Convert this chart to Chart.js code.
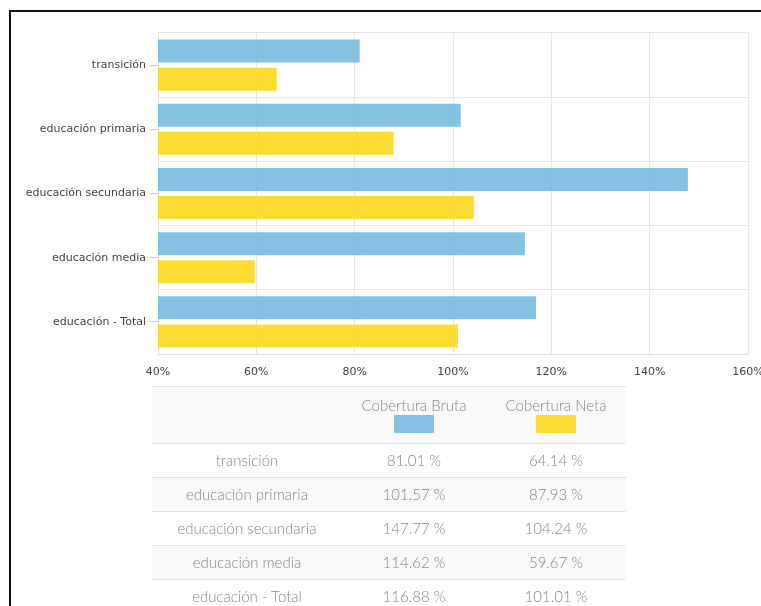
<!DOCTYPE html>
<html>
<head>
<meta charset="utf-8">
<script src="https://cdn.jsdelivr.net/npm/chart.js@4.4.0/dist/chart.umd.min.js"></script>
<style>
html, body { margin: 0; padding: 0; width: 761px; height: 606px; overflow: hidden; background: #fff; }
#frame { position: absolute; left: 9px; top: 10px; width: 800px; height: 700px; border-left: 2px solid #111; border-top: 2px solid #111; }
#wrap { position: absolute; left: 0; top: 0; width: 780px; height: 390px; }
table { position: absolute; left: 152px; top: 386px; width: 474px; border-collapse: collapse; table-layout: fixed;
        font-family: Lato, "Open Sans", sans-serif; font-weight: 300; font-size: 15px; color: #888; }
td, th { text-align: center; font-weight: 300; border-top: 1px solid #e2e2e2; padding: 0; }
th { height: 56px; vertical-align: top; background: #f9f9f9; }
th .lbl { display: block; margin-top: 9px; line-height: 18px; }
th .sw { display: inline-block; width: 40px; height: 18px; margin-top: 1px; }
td { height: 33px; line-height: 33px; }
tr.alt td { background: #f9f9f9; }
</style>
</head>
<body>
<div id="frame"></div>
<div id="wrap"><canvas id="chart" width="780" height="390"></canvas></div>
<table id="table">
  <colgroup><col style="width:190px"><col style="width:144px"><col style="width:140px"></colgroup>
  <thead><tr id="head"><th></th></tr></thead>
  <tbody id="body"></tbody>
</table>
<script>
const categories = ["transición", "educación primaria", "educación secundaria", "educación media", "educación - Total"];
const seriesNames = ["Cobertura Bruta", "Cobertura Neta"];
const cobBruta = [81.01, 101.57, 147.77, 114.62, 116.88];
const cobNeta = [64.14, 87.93, 104.24, 59.67, 101.01];
const xTicks = [40, 60, 80, 100, 120, 140, 160];

const blue = "rgba(119, 186, 224, 0.9)";
const yellow = "rgba(253, 216, 28, 0.9)";
const gridColor = "#e6e6e6";
const labelFont = { family: "DejaVu Sans", size: 11 };

const ctx = document.getElementById("chart");
const chart = new Chart(ctx, {
    type: "bar",
    data: {
        labels: categories,
        datasets: [{
            label: seriesNames[0],
            data: cobBruta,
            backgroundColor: blue,
            borderWidth: 0,
            categoryPercentage: 0.875,
            barPercentage: 0.82
        }, {
            label: seriesNames[1],
            data: cobNeta,
            backgroundColor: yellow,
            borderWidth: 0,
            categoryPercentage: 0.875,
            barPercentage: 0.82
        }]
    },
    options: {
        indexAxis: "y",
        responsive: false,
        animation: false,
        devicePixelRatio: 1,
        layout: { padding: { top: 33, right: 32, bottom: 0, left: 0 } },
        plugins: { legend: { display: false }, tooltip: { enabled: false } },
        scales: {
            x: {
                type: "linear",
                min: 40,
                max: 160,
                afterBuildTicks: s => { s.ticks = xTicks.map(v => ({ value: v })); },
                afterFit: s => { s.height = 36; },
                grid: { color: gridColor, drawTicks: false },
                border: { display: true, color: "#dddddd" },
                ticks: { padding: 12, color: "#444", font: labelFont, callback: v => v + "%" }
            },
            y: {
                type: "category",
                offset: true,
                afterFit: s => { s.width = 0; },
                grid: { offset: true, color: gridColor, drawTicks: false },
                border: { display: false },
                ticks: { display: false }
            },
            // second y axis only for the labels and the small tick marks at the category centres
            y2: {
                type: "category",
                axis: "y",
                position: "left",
                offset: true,
                afterFit: s => { s.width = 158; },
                grid: { offset: false, drawOnChartArea: false, tickLength: 8, tickColor: "#cccccc" },
                border: { display: true, color: "#dddddd" },
                ticks: { padding: 4, color: "#444", font: labelFont }
            }
        }
    }
});

// table under the chart
const head = document.getElementById("head");
[blue, yellow].forEach((c, i) => {
    const th = document.createElement("th");
    th.innerHTML = `<span class="lbl">${seriesNames[i]}</span><span class="sw" style="background:${c}"></span>`;
    head.appendChild(th);
});

const body = document.getElementById("body");
categories.forEach((cat, i) => {
    const row = body.insertRow();
    if (i % 2 === 1) row.className = "alt";
    row.innerHTML = `
        <td>${cat}</td>
        <td>${cobBruta[i].toFixed(2)} %</td>
        <td>${cobNeta[i].toFixed(2)} %</td>
    `;
});
</script>
</body>
</html>
